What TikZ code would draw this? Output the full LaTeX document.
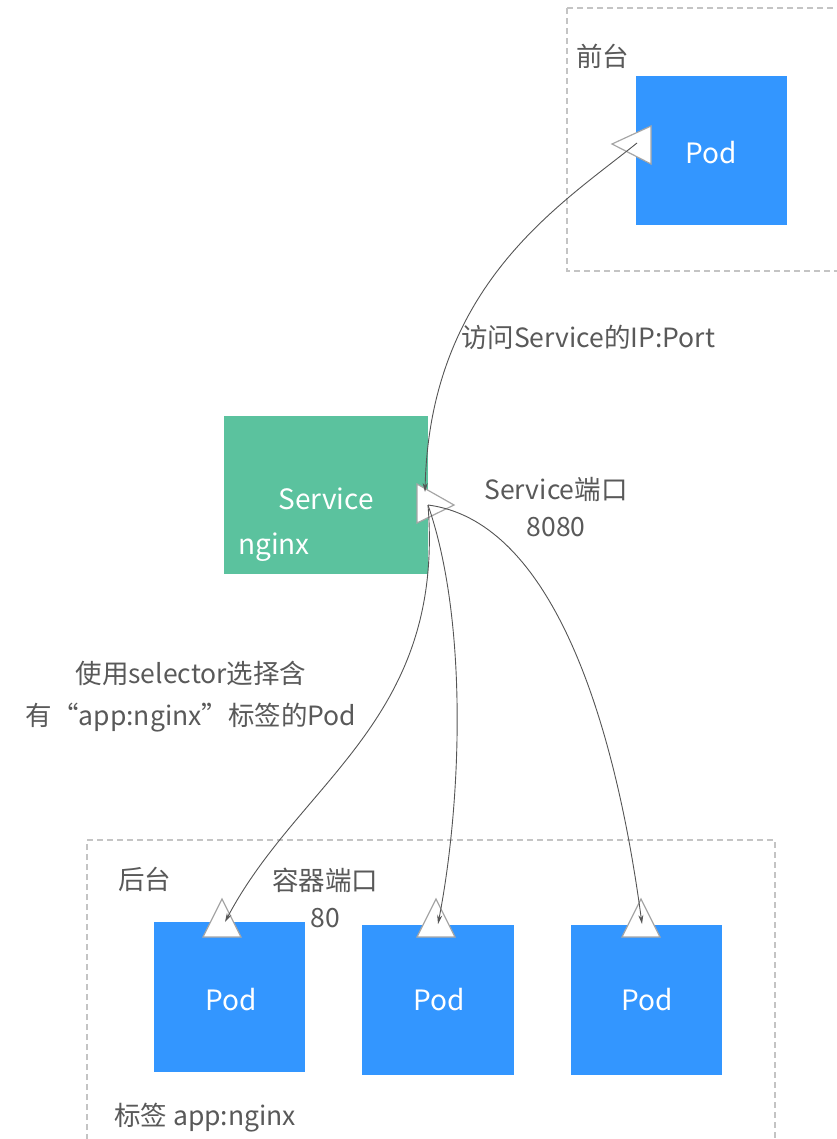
\documentclass[tikz,border=0pt]{standalone}
\usepackage{fontspec}
\setmainfont{Noto Sans CJK SC}
\usetikzlibrary{arrows.meta}
\definecolor{podblue}{HTML}{3396FF}
\definecolor{svcgreen}{HTML}{5BC29E}
\definecolor{txtgray}{HTML}{595959}
\definecolor{linegray}{HTML}{555555}
\definecolor{dashgray}{HTML}{C4C4C4}
\definecolor{trigray}{HTML}{A6A6A6}
\tikzset{
  lbl/.style={text=txtgray, font=\fontsize{26.5bp}{37bp}\selectfont, inner sep=0pt, align=center},
  intext/.style={text=white, font=\fontsize{28bp}{30bp}\selectfont, inner sep=0pt},
  podbox/.style={fill=podblue, draw=none},
  grpbox/.style={draw=dashgray, line width=1.2bp, dash pattern=on 6bp off 4bp},
  port/.style={fill=white, draw=trigray, line width=1.2bp, line join=miter},
  conn/.style={draw=linegray, line width=0.9bp, -{Stealth[length=9bp,width=5bp]}},
}
\begin{document}
\begin{tikzpicture}[x=1bp,y=-1bp]
\useasboundingbox (0,0) rectangle (837,1139);
% groups
\draw[grpbox] (567,8) -- (845,8) (567,8) -- (567,271) -- (845,271);
\draw[grpbox] (87,1150) -- (87,840) -- (775,840) -- (775,1150);
\node[lbl, anchor=west] (front) at (576,56) {前台};
\node[lbl, anchor=west] (back) at (118,879) {后台};
% top pod
\fill[podbox] (636,76) rectangle (787,225);
\node[intext] (podtop) at (711,153) {Pod};
% service
\fill[svcgreen] (224,416) rectangle (428,574);
\node[intext] (svc) at (326,499) {Service};
\node[intext, anchor=west] (svcname) at (238,547) {nginx};
% bottom pods
\fill[podbox] (154,922) rectangle (305,1072);
\fill[podbox] (362,925) rectangle (514,1075);
\fill[podbox] (571,925) rectangle (722,1075);
\node[intext] (pod1) at (231,1000) {Pod};
\node[intext] (pod2) at (439,1000) {Pod};
\node[intext] (pod3) at (647,1000) {Pod};
% ports
\draw[port] (651,126) -- (612,144) -- (651,164) -- cycle;
\draw[port] (417,484) -- (454,505) -- (417,523) -- cycle;
\draw[port] (203,937) -- (222,899) -- (241,937) -- cycle;
\draw[port] (417,937) -- (436,899) -- (455,937) -- cycle;
\draw[port] (622,937) -- (641,899) -- (660,937) -- cycle;
\coordinate (ptop) at (637,143);
\coordinate (psvc) at (425,492);
\coordinate (psvcout) at (428,505);
\coordinate (p1) at (225,922);
\coordinate (p2) at (438,924);
\coordinate (p3) at (642,924);
% connectors
\draw[conn] (ptop) .. controls (560,205) and (430,285) .. (psvc);
\draw[conn] (psvcout) .. controls (445,720) and (300,780) .. (p1);
\draw[conn] (psvcout) .. controls (468,620) and (462,800) .. (p2);
\draw[conn] (psvcout) .. controls (545,520) and (612,700) .. (p3);
% labels
\node[lbl] (l1) at (588,337) {访问Service的IP:Port};
\node[lbl] (l2) at (556,507) {Service端口\\8080};
\node[lbl, text depth=0pt] (l3) at (191,693) {使用selector选择含\\[5bp]有“app:nginx”标签的Pod};
\node[lbl] (l4) at (325,898) {容器端口\\80};
\node[lbl, anchor=west] (l5) at (114,1118) {标签 app:nginx};
\end{tikzpicture}
\end{document}
